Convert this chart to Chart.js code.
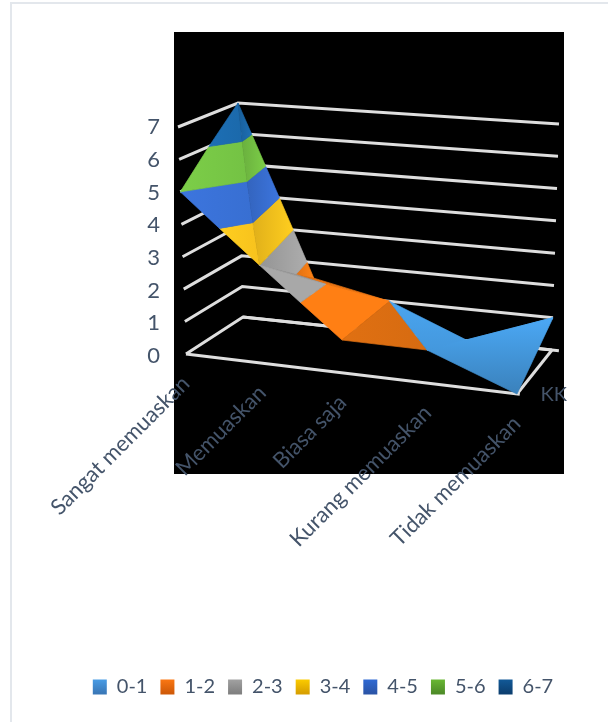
<!DOCTYPE html>
<html>
<head>
<meta charset="utf-8">
<style>
  html, body { margin: 0; background: #fff; }
  #frame { position: absolute; left: 10px; top: 2px; width: 598px; height: 720px; box-sizing: border-box;
           border-left: 2px solid #e3e7ec; border-top: 2px solid #e3e7ec; }
  canvas { position: absolute; left: 0; top: 0; }
</style>
<script src="https://cdn.jsdelivr.net/npm/chart.js@4"></script>
</head>
<body>
<div id="frame"></div>
<canvas id="surface" width="608" height="722"></canvas>
<script>
const categories = ['Sangat memuaskan', 'Memuaskan', 'Biasa saja', 'Kurang memuaskan', 'Tidak memuaskan'];
const seriesName = 'KK';
const frontValues = [5, 3, 1, 1, 0];
const backValues = [7, 1.5, 1, 0, 1];
const valueTicks = [0, 1, 2, 3, 4, 5, 6, 7];
const bandLabels = ['0-1', '1-2', '2-3', '3-4', '4-5', '5-6', '6-7'];
const bandColors = ['#4aa5f0', '#ff7f14', '#a8a8a8', '#ffc81e', '#3a72d8', '#78c846', '#1c6cb0'];
const swatchTop = ['#4aa0ea', '#ff7a14', '#a5a5a5', '#ffd000', '#2f6bd8', '#6cbc34', '#125c9c'];
const swatchBottom = ['#3a78b8', '#d05a08', '#808080', '#d8a000', '#2a55a8', '#4e8c28', '#0c3f70'];

const textColor = '#44546a';
const fontName = 'Lato';

// 3d box as it appears on the page, used to project (category, depth, value)
const floorBox = { fl: [186, 354], fr: [517, 394], bl: [243, 317], br: [552, 350] };
const topBox = { fl: [178, 127], fr: [515, 160], bl: [238, 103], br: [559, 124] };
const maxValue = 7;
const squeeze = 0.9;

function mix(a, b, t) { return a + (b - a) * t; }

function project(cat, depth, value) {
    let u = cat / (categories.length - 1);
    u = squeeze * u / (1 - u + squeeze * u);
    const corner = (box, i) => mix(mix(box.fl[i], box.fr[i], u), mix(box.bl[i], box.br[i], u), depth);
    const t = value / maxValue;
    return { x: mix(corner(floorBox, 0), corner(topBox, 0), t), y: mix(corner(floorBox, 1), corner(topBox, 1), t) };
}

// f = front row, b = back row; fold of each quad follows the picture
function f(i) { return { cat: i, depth: 0, v: frontValues[i] }; }
function b(i) { return { cat: i, depth: 1, v: backValues[i] }; }
const triangles = [
    { pts: [f(0), b(0), f(1)], from: 1.03, to: 0.97, dir: 'x' },
    { pts: [b(0), f(1), b(1)], from: 0.88, to: 1.03, dir: 'x' },
    { pts: [f(1), b(1), b(2)], from: 0.9, to: 0.9, dir: 'x' },
    { pts: [f(1), b(2), f(2)], from: 1.0, to: 1.0, dir: 'x' },
    { pts: [f(2), b(2), f(3)], from: 0.88, to: 0.84, dir: 'x' },
    { pts: [b(2), f(3), b(3)], from: 1.0, to: 0.92, dir: 'y' },
    { pts: [f(3), b(3), b(4)], from: 1.0, to: 0.92, dir: 'y' },
    { pts: [f(3), b(4), f(4)], from: 1.02, to: 0.78, dir: 'y' }
];

// cut one triangle down to the part between two values
function clipBand(pts, lo, hi) {
    const cut = (poly, keep, level) => {
        const out = [];
        poly.forEach((p, i) => {
            const q = poly[(i + 1) % poly.length];
            if (keep(p.v)) out.push(p);
            if (keep(p.v) !== keep(q.v)) {
                const t = (level - p.v) / (q.v - p.v);
                out.push({ cat: mix(p.cat, q.cat, t), depth: mix(p.depth, q.depth, t), v: level });
            }
        });
        return out;
    };
    return cut(cut(pts, v => v >= lo, lo), v => v <= hi, hi);
}

function shadeColor(hex, k) {
    const n = parseInt(hex.slice(1), 16);
    const c = [n >> 16, (n >> 8) & 255, n & 255].map(x => Math.min(255, Math.round(x * k)));
    return `rgb(${c[0]},${c[1]},${c[2]})`;
}

const datasets = [];

function addLine(points) {
    datasets.push({
        data: points, showLine: true, pointRadius: 0, borderColor: '#dedede', borderWidth: 3,
        fill: false, yAxisID: 'py', order: -datasets.length
    });
}

// walls and floor
valueTicks.forEach(v => {
    addLine([project(0, 0, v), project(0, 1, v), project(4, 1, v)]);
});
addLine([project(0, 1, 0), project(4.08, 1, 0)]);
addLine([project(0, 0, 0), project(4.03, 0, 0)]);
addLine([project(4, 0, 0), project(4, 1, 0)]);

const pageCtx = document.getElementById('surface').getContext('2d');

// surface, one polygon per triangle per value band
triangles.forEach(tri => {
    // x and y values are page pixels, both scales run 1:1 over the chart area
    const corners = tri.pts.map(p => project(p.cat, p.depth, p.v));
    bandLabels.forEach((label, k) => {
        const values = tri.pts.map(p => p.v);
        const flat = Math.max(...values) === Math.min(...values);
        if (flat && values[0] !== k) return;
        const poly = clipBand(tri.pts, k, k + 1);
        if (poly.length < 3) return;
        const points = poly.map(p => project(p.cat, p.depth, p.v));
        const area = points.reduce((s, p, i) => {
            const q = points[(i + 1) % points.length];
            return s + p.x * q.y - q.x * p.y;
        }, 0);
        if (Math.abs(area) < 0.5) return;
        const xs = points.map(p => p.x);
        const ys = corners.map(p => p.y);
        const g = tri.dir === 'x'
            ? pageCtx.createLinearGradient(Math.min(...xs), 0, Math.max(...xs), 0)
            : pageCtx.createLinearGradient(0, Math.min(...ys), 0, Math.max(...ys));
        g.addColorStop(0, shadeColor(bandColors[k], tri.from));
        g.addColorStop(1, shadeColor(bandColors[k], tri.to));
        datasets.push({
            label: label, data: points.concat([points[0]]), showLine: true, pointRadius: 0,
            borderColor: g, backgroundColor: g, borderWidth: 0.7, fill: 'shape',
            yAxisID: 'py', order: -datasets.length
        });
    });
});

// category names lean on the front edge of the floor, series name on the side
const axisText = {
    id: 'axisText',
    afterDraw(chart) {
        const ctx = chart.ctx;
        const sx = chart.scales.x, sy = chart.scales.py;
        ctx.save();
        ctx.fillStyle = textColor;
        ctx.font = `22px ${fontName}`;
        categories.forEach((name, i) => {
            const p = project(i, 0, 0);
            ctx.save();
            ctx.translate(sx.getPixelForValue(p.x), sy.getPixelForValue(p.y) + 26);
            ctx.rotate(-Math.PI / 4);
            ctx.textAlign = 'right';
            ctx.textBaseline = 'middle';
            ctx.fillText(name, 0, 0);
            ctx.restore();
        });
        const side = project(4, 0.5, 0);
        ctx.textAlign = 'left';
        ctx.textBaseline = 'middle';
        ctx.font = `20px ${fontName}`;
        ctx.fillText(seriesName, sx.getPixelForValue(side.x) + 6, sy.getPixelForValue(side.y) + 23);
        ctx.restore();
    }
};

const blackPanel = {
    id: 'blackPanel',
    beforeDraw(chart) {
        const a = chart.chartArea;
        chart.ctx.fillStyle = '#000';
        chart.ctx.fillRect(a.left, a.top, a.width, a.height);
    }
};

new Chart(document.getElementById('surface'), {
    type: 'scatter',
    data: { datasets: datasets },
    plugins: [blackPanel, axisText],
    options: {
        responsive: false,
        animation: false,
        devicePixelRatio: 1,
        layout: { padding: { left: 60, right: 22, top: 32, bottom: 15 } },
        scales: {
            x: {
                type: 'linear', min: 174, max: 564,
                grid: { display: false }, border: { display: false },
                ticks: { display: false },
                afterFit(s) { s.height = 190; }
            },
            py: { axis: 'y', type: 'linear', min: 32, max: 474, reverse: true, display: false },
            yv: {
                axis: 'y', type: 'linear', position: 'left', min: -3.607, max: 9.905,
                grid: { display: false }, border: { display: false },
                afterBuildTicks(s) { s.ticks = valueTicks.map(v => ({ value: v })); },
                afterFit(s) { s.width = 114; },
                ticks: { color: textColor, font: { family: fontName, size: 22 }, padding: 6, autoSkip: false, callback: v => String(v) }
            },
            // empty axis, only keeps the panel clear of the right edge
            gap: {
                axis: 'y', type: 'linear', position: 'right',
                grid: { display: false }, border: { display: false },
                ticks: { display: false },
                afterFit(s) { s.width = 22; }
            }
        },
        plugins: {
            tooltip: { enabled: false },
            legend: {
                position: 'bottom',
                labels: {
                    boxWidth: 14, boxHeight: 15, padding: 13, color: textColor,
                    font: { family: fontName, size: 20 },
                    generateLabels(chart) {
                        return bandLabels.map((label, k) => {
                            const g = chart.ctx.createLinearGradient(0, 678, 0, 693);
                            g.addColorStop(0, swatchTop[k]);
                            g.addColorStop(1, swatchBottom[k]);
                            return { text: label, fillStyle: g, strokeStyle: 'transparent', lineWidth: 0, fontColor: textColor };
                        });
                    }
                }
            }
        }
    }
});
</script>
</body>
</html>
